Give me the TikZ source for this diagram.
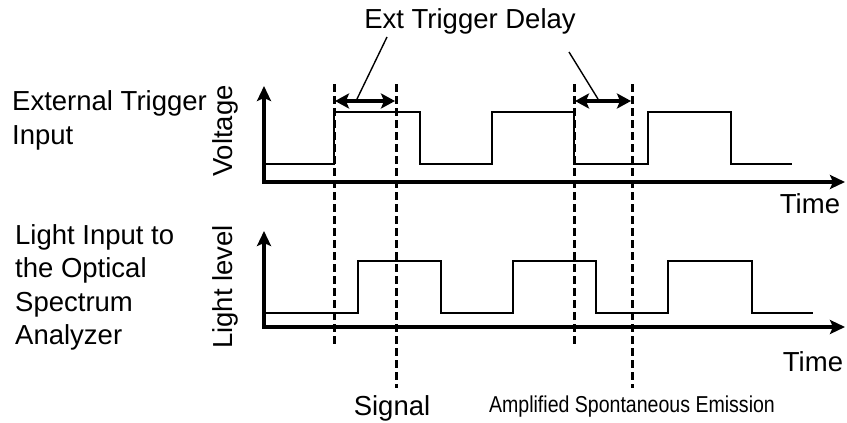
\documentclass[tikz,border=0pt]{standalone}
\usepackage{fontspec}
\setmainfont{Liberation Sans}
\usetikzlibrary{arrows.meta}
\begin{document}
\begin{tikzpicture}[x=1pt,y=-1pt,
  axis/.style={line width=3.6pt,-{Stealth[length=15pt,width=14pt,inset=3pt]}},
  sig/.style={line width=2.2pt},
  guide/.style={line width=3pt,dash pattern=on 8pt off 4pt},
  delay/.style={line width=3.4pt,{Stealth[length=14pt,width=15pt,inset=3pt]}-{Stealth[length=14pt,width=15pt,inset=3pt]}},
  leader/.style={line width=1.4pt},
  lbl/.style={font=\fontsize{27.5}{31}\selectfont,inner sep=0pt},
  every node/.style={inner sep=0pt}]
\useasboundingbox (0,0) rectangle (847,423);
% coordinates
\coordinate (o1) at (264,182);
\coordinate (y1) at (264,86);
\coordinate (x1) at (845,182);
\coordinate (o2) at (264,327);
\coordinate (y2) at (264,231);
\coordinate (x2) at (845,327);
% dashed guides
\coordinate (d1t) at (334,84); \coordinate (d1b) at (334,347);
\coordinate (d2t) at (396,84); \coordinate (d2b) at (396,388);
\coordinate (d3t) at (574,84); \coordinate (d3b) at (574,347);
\coordinate (d4t) at (632,84); \coordinate (d4b) at (632,388);
% signals
\draw[sig] (265,164) -- (334,164) -- (334,112) -- (420,112) -- (420,164) -- (492,164) -- (492,112) -- (574,112) -- (574,164) -- (648,164) -- (648,112) -- (731,112) -- (731,164) -- (792,164);
\draw[sig] (265,313) -- (358,313) -- (358,261) -- (441,261) -- (441,313) -- (513,313) -- (513,261) -- (596,261) -- (596,313) -- (668,313) -- (668,261) -- (752,261) -- (752,313) -- (813,313);
% axes
\draw[axis] (264,183.8) -- (y1);
\draw[axis] (262.2,182) -- (x1);
\draw[axis] (264,328.8) -- (y2);
\draw[axis] (262.2,327) -- (x2);
% guides
\draw[guide] (d1t) -- (d1b);
\draw[guide] (d2t) -- (d2b);
\draw[guide] (d3t) -- (d3b);
\draw[guide] (d4t) -- (d4b);
% delay arrows
\coordinate (a1l) at (335,101); \coordinate (a1r) at (395,101);
\coordinate (a2l) at (575,101); \coordinate (a2r) at (631,101);
\draw[delay] (a1l) -- (a1r);
\draw[delay] (a2l) -- (a2r);
% labels
\node[lbl] (etd) at (470,21) {Ext Trigger Delay};
\coordinate (l1s) at (387,37); \coordinate (l1e) at (357,99);
\coordinate (l2s) at (569,52); \coordinate (l2e) at (598,99);
\draw[leader] (l1s) -- (l1e);
\draw[leader] (l2s) -- (l2e);
\node[lbl,anchor=base west] (eti1) at (12,110) {External Trigger};
\node[lbl,anchor=base west] (eti2) at (12,144) {Input};
\node[lbl,rotate=90] (volt) at (225,131) {Voltage};
\node[lbl] (t1) at (810,204) {Time};
\node[lbl,align=left,anchor=north west,font=\fontsize{27.5}{33.5}\selectfont] (lio) at (15,224) {Light Input to\\the Optical\\Spectrum\\Analyzer};
\node[lbl,rotate=90] (ll) at (225,287) {Light level};
\node[lbl] (t2) at (813,362) {Time};
\node[lbl] (sg) at (392,408) {Signal};
\node[inner sep=0pt,font=\fontsize{23}{27}\selectfont] (ase) at (632,407) {\scalebox{0.85}[1]{Amplified Spontaneous Emission}};
\end{tikzpicture}
\end{document}
